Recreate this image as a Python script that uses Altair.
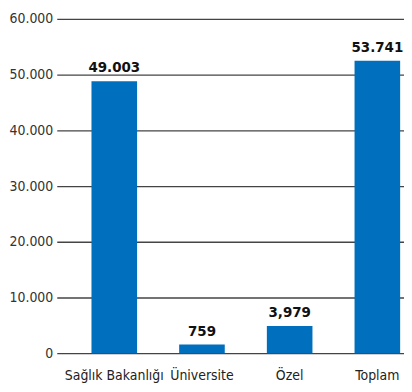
import altair as alt
import pandas as pd

categories = ["Sağlık Bakanlığı", "Üniversite", "Özel", "Toplam"]
bar_values = [48800, 1550, 4900, 52500]
bar_labels = ["49.003", "759", "3,979", "53.741"]
y_ticks = [0, 10000, 20000, 30000, 40000, 50000, 60000]

df = pd.DataFrame({"cat": categories, "val": bar_values, "lab": bar_labels})

FONT = "DejaVu Sans Condensed, Roboto, sans-serif"

x_enc = alt.X(
    "cat:N",
    sort=categories,
    title=None,
    scale=alt.Scale(paddingInner=0.48, paddingOuter=0.22, align=0.9),
    axis=alt.Axis(labelAngle=0, domain=False, ticks=False, labelFont=FONT,
                  labelFontSize=14, labelColor="#222222", labelPadding=15),
)
y_enc = alt.Y(
    "val:Q",
    title=None,
    scale=alt.Scale(domain=[0, 60000], nice=False),
    axis=alt.Axis(values=y_ticks, domain=False, ticks=False, grid=True,
                  gridColor="#444444", gridWidth=1.3, labelFont=FONT,
                  labelFontSize=14, labelColor="#333333", labelPadding=4,
                  labelExpr="replace(format(datum.value, ','), ',', '.')"),
)

bars = alt.Chart(df).mark_bar(color="#006FBE").encode(x=x_enc, y=y_enc)
texts = alt.Chart(df).mark_text(
    font=FONT, fontSize=15, fontWeight="bold", color="#111111",
    baseline="bottom", dy=-6
).encode(x=alt.X("cat:N", sort=categories), y="val:Q", text="lab:N")

chart = alt.layer(bars, texts).properties(
    width=349, height=336,
    padding={"left": 0, "top": 3, "right": 0, "bottom": 0},
).configure_view(stroke=None)

chart.save("out.html", embed_options={"renderer": "svg", "actions": False})
